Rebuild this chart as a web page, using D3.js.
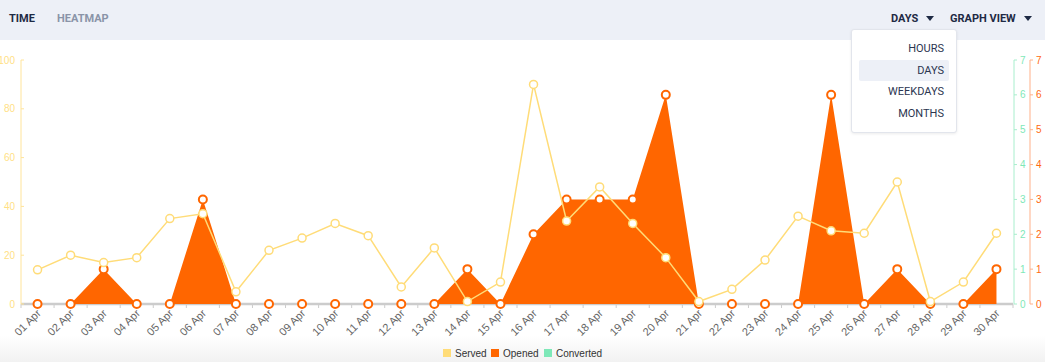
<!DOCTYPE html>
<html>
<head>
<meta charset="utf-8">
<script src="https://cdn.jsdelivr.net/npm/d3@7"></script>
<style>
  body { margin: 0; background: #fff; width: 1045px; height: 362px; overflow: hidden; position: relative; font-family: "Liberation Sans", Arial, sans-serif; }
  .topbar { position: absolute; left: 0; top: 0; width: 1045px; height: 40px; background: #edf0f7; font-family: Roboto, "Open Sans", sans-serif; font-weight: 700; font-size: 11px; }
  .topbar span { position: absolute; top: 12px; }
  .menu { position: absolute; left: 851px; top: 29px; width: 104px; height: 102px; background: #fff; border: 1px solid #e2e5ec; border-radius: 3px; box-shadow: 0 1px 3px rgba(0,0,0,0.08); font-family: Roboto, sans-serif; font-size: 11px; color: #2c3550; }
  .menu div { position: absolute; right: 12px; }
  .caret { display: inline-block; width: 0; height: 0; border-left: 4px solid transparent; border-right: 4px solid transparent; border-top: 5px solid #1e2a44; margin-left: 8px; vertical-align: 1px; }
</style>
</head>
<body>
<div class="topbar">
  <span style="left:9px;color:#1e2a44">TIME</span>
  <span style="left:57px;color:#8a94a8">HEATMAP</span>
  <span style="left:891px;color:#1e2a44">DAYS<i class="caret"></i></span>
  <span style="left:950px;color:#1e2a44">GRAPH VIEW<i class="caret"></i></span>
</div>
<svg id="chart" width="1045" height="362" style="position:absolute;left:0;top:0"></svg>
<div class="menu">
  <div style="top:30px;right:7px;left:7px;height:21px;background:#edf0f7;border-radius:2px"></div>
  <div style="top:12px">HOURS</div>
  <div style="top:34px">DAYS</div>
  <div style="top:55px">WEEKDAYS</div>
  <div style="top:77px">MONTHS</div>
</div>
<script>
const days = ["01 Apr","02 Apr","03 Apr","04 Apr","05 Apr","06 Apr","07 Apr","08 Apr","09 Apr","10 Apr",
  "11 Apr","12 Apr","13 Apr","14 Apr","15 Apr","16 Apr","17 Apr","18 Apr","19 Apr","20 Apr",
  "21 Apr","22 Apr","23 Apr","24 Apr","25 Apr","26 Apr","27 Apr","28 Apr","29 Apr","30 Apr"];
const served = [14,20,17,19,35,37,5,22,27,33,28,7,23,1,9,90,34,48,33,19,1,6,18,36,30,29,50,1,9,29];
const opened = [0,0,1,0,0,3,0,0,0,0,0,0,0,1,0,2,3,3,3,6,0,0,0,0,6,0,1,0,0,1];
const converted = [0,0,0,0,0,0,0,0,0,0,0,0,0,0,0,0,0,0,0,0,0,0,0,0,0,0,0,0,0,0];
const leftTicks = [0,20,40,60,80,100];
const rightTicks = [0,1,2,3,4,5,6,7];

const C = { served: "#ffdc78", opened: "#ff6600", converted: "#7ee8b8" };
const svg = d3.select("#chart");
const L = 21, R = 1013, T = 60, B = 304;

// soft grey footer
const grad = svg.append("defs").append("linearGradient").attr("id", "foot").attr("x1", 0).attr("x2", 0).attr("y1", 0).attr("y2", 1);
grad.append("stop").attr("offset", "0%").attr("stop-color", "#ffffff");
grad.append("stop").attr("offset", "100%").attr("stop-color", "#f2f2f2");
svg.append("rect").attr("x", 0).attr("y", 335).attr("width", 1045).attr("height", 27).attr("fill", "url(#foot)");

let x = d3.scaleBand().domain(days).range([L, R]);
let cx = d => x(d) + x.bandwidth() / 2;
let yL = d3.scaleLinear().domain([0, 100]).range([B, T]);
let yR = d3.scaleLinear().domain([0, 7]).range([B, T]);

// converted (all zero, hidden under the x axis)
svg.append("path").datum(converted)
  .attr("d", d3.line().x((d, i) => cx(days[i])).y(d => yR(d)))
  .attr("fill", "none").attr("stroke", C.converted).attr("stroke-width", 1.5);

// x axis
let xa = svg.append("g").attr("transform", `translate(0,${B})`);
xa.append("line").attr("x1", L).attr("x2", R).attr("stroke", "#cccccc").attr("stroke-width", 2.5);
xa.selectAll(".tk").data(days.concat(["end"])).enter().append("line")
  .attr("x1", (d, i) => L + i * x.bandwidth()).attr("x2", (d, i) => L + i * x.bandwidth())
  .attr("y1", 0).attr("y2", 4).attr("stroke", "#cccccc");
xa.selectAll("text").data(days).enter().append("text")
  .attr("transform", d => `translate(${cx(d) + 4},${10}) rotate(-45)`)
  .attr("text-anchor", "end").attr("font-size", 11).attr("fill", "#666").text(d => d);

// left axis
let la = svg.append("g").attr("transform", `translate(${L},0)`);
la.append("line").attr("y1", T).attr("y2", B).attr("stroke", "#ffe49a");
la.selectAll("line.t").data(leftTicks).enter().append("line").attr("class", "t")
  .attr("x1", 0).attr("x2", 3).attr("y1", d => yL(d)).attr("y2", d => yL(d)).attr("stroke", "#ffe49a");
la.selectAll("text").data(leftTicks).enter().append("text")
  .attr("x", -6).attr("y", d => yL(d) + 3.5).attr("text-anchor", "end")
  .attr("font-size", 10).attr("fill", "#ffdf85").text(d => d);

// right axes
function rightAxis(px, lineCol, txtCol) {
  let g = svg.append("g").attr("transform", `translate(${px},0)`);
  g.append("line").attr("y1", T).attr("y2", B).attr("stroke", lineCol);
  g.selectAll("line.t").data(rightTicks).enter().append("line").attr("class", "t")
    .attr("x1", 0).attr("x2", 3).attr("y1", d => yR(d)).attr("y2", d => yR(d)).attr("stroke", lineCol);
  g.selectAll("text").data(rightTicks).enter().append("text")
    .attr("x", 6).attr("y", d => yR(d) + 3.5).attr("font-size", 10).attr("fill", txtCol).text(d => d);
}
rightAxis(1014, "#a8eecd", "#7ee8b8");
rightAxis(1030, "#ffb089", "#ff6a10");

// opened area
svg.append("path").datum(opened)
  .attr("d", d3.area().x((d, i) => cx(days[i])).y0(B).y1(d => yR(d)))
  .attr("fill", C.opened);
svg.selectAll("circle.op").data(opened).enter().append("circle").attr("class", "op")
  .attr("cx", (d, i) => cx(days[i])).attr("cy", d => yR(d)).attr("r", 4)
  .attr("fill", "#fff").attr("stroke", C.opened).attr("stroke-width", 2);

// served line
svg.append("path").datum(served)
  .attr("d", d3.line().x((d, i) => cx(days[i])).y(d => yL(d)))
  .attr("fill", "none").attr("stroke", C.served).attr("stroke-width", 1.5);
svg.selectAll("circle.sv").data(served).enter().append("circle").attr("class", "sv")
  .attr("cx", (d, i) => cx(days[i])).attr("cy", d => yL(d)).attr("r", 4)
  .attr("fill", "#fff").attr("stroke", C.served).attr("stroke-width", 1.5);

// legend
const legend = [["Served", C.served, 443], ["Opened", C.opened, 491], ["Converted", C.converted, 544]];
let lg = svg.selectAll("g.lg").data(legend).enter().append("g").attr("class", "lg")
  .attr("transform", d => `translate(${d[2]},349)`);
lg.append("rect").attr("width", 8).attr("height", 8).attr("fill", d => d[1]);
lg.append("text").attr("x", 12).attr("y", 8).attr("font-size", 10).attr("fill", "#333").text(d => d[0]);
</script>
</body>
</html>
